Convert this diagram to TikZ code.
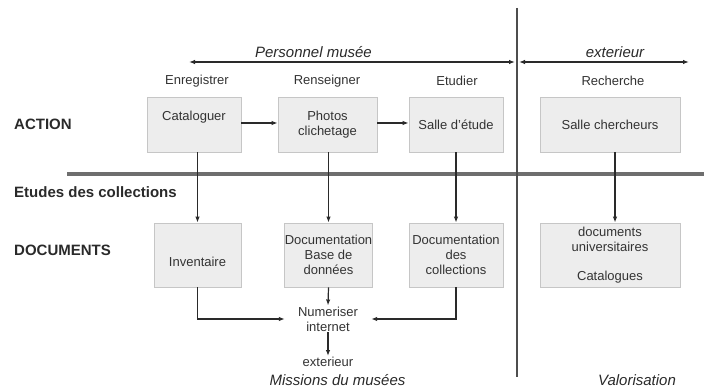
\documentclass[tikz,border=0pt]{standalone}
\usepackage{fontspec}
\setmainfont{Liberation Sans}
\usetikzlibrary{arrows.meta,calc}

\definecolor{boxfill}{HTML}{EDEDED}
\definecolor{boxline}{HTML}{C6C6C6}
\definecolor{ink}{HTML}{2A2A2A}
\definecolor{txt}{HTML}{333333}
\definecolor{rule}{HTML}{6E6E6E}
\definecolor{divider}{HTML}{4E4E4E}

\tikzset{
  box/.style={draw=boxline, fill=boxfill, line width=0.8pt, inner sep=0pt,
              align=center, text=txt, font=\fontsize{13}{15}\selectfont},
  small/.style={inner sep=0pt, text=txt, align=center, font=\fontsize{13}{15}\selectfont},
  head/.style={inner sep=0pt, anchor=west, text=ink, font=\fontsize{15}{18}\selectfont\bfseries},
  title/.style={inner sep=0pt, text=ink, font=\fontsize{15}{18}\selectfont\itshape},
  arr/.style={draw=ink, line width=1.2pt, -{Latex[length=6pt,width=4.5pt]}},
  twoarr/.style={draw=ink, line width=1.2pt, {Latex[length=6pt,width=4.5pt]}-{Latex[length=6pt,width=4.5pt]}},
}

\begin{document}
\begin{tikzpicture}[x=1pt, y=-1pt]
\useasboundingbox (0,0) rectangle (704,390);
\fill[white] (0,0) rectangle (704,390);

% separators
\draw[rule, line width=4pt] (67,174.5) -- (704,174.5);
\draw[divider, line width=2pt] (517,8) -- (517,377);

% row headings
\node[head] (hAction) at (14,124) {ACTION};
\node[head] (hEtudes) at (14,192) {Etudes des collections};
\node[head] (hDocs) at (14,250) {DOCUMENTS};

% scope arrows
\coordinate (pL) at (189,62);
\coordinate (pR) at (515,62);
\coordinate (eL) at (519,62);
\coordinate (eR) at (689,62);
\draw[twoarr] (pL) -- (pR);
\draw[twoarr] (eL) -- (eR);
\node[title] (tPers) at (313.5,52) {Personnel musée};
\node[title] (tExt) at (615,52) {exterieur};

% column headings
\node[small] (cEnr) at (197,81) {Enregistrer};
\node[small] (cRen) at (327,81) {Renseigner};
\node[small] (cEtu) at (457,81) {Etudier};
\node[small] (cRec) at (613,81) {Recherche};

% action boxes
\node[box, minimum width=94pt, minimum height=55pt] (cat) at (194,124.5)
  {\raisebox{7pt}[\height][\depth]{Cataloguer}};
\node[box, minimum width=99pt, minimum height=55pt] (photo) at (327.5,124.5)
  {Photos\\clichetage};
\node[box, minimum width=94pt, minimum height=55pt] (etude) at (456,124.5)
  {Salle d'étude};
\node[box, minimum width=140pt, minimum height=55pt] (cherch) at (610,124.5)
  {Salle chercheurs};

% document boxes
\node[box, minimum width=87pt, minimum height=64pt] (inv) at (197.5,255)
  {\raisebox{-7pt}[\height][\depth]{Inventaire}};
\node[box, minimum width=87pt, minimum height=64pt] (docbase) at (328.5,255)
  {Documentation\\Base de\\données};
\node[box, minimum width=94pt, minimum height=64pt] (doccoll) at (456,255)
  {Documentation\\des\\collections};
\node[box, minimum width=140pt, minimum height=64pt] (docuni) at (610,255)
  {documents\\universitaires\\[14pt]Catalogues};

% digitisation and output
\node[small, inner xsep=13pt, inner ysep=1pt] (num) at (328,319) {Numeriser\\internet};
\node[small, inner ysep=1pt] (ext) at (328,362) {exterieur};
\node[title] (tMis) at (337.5,380) {Missions du musées};
\node[title] (tVal) at (637,380) {Valorisation};

% flows
\draw[arr] (cat.east |- 0,123) -- (photo.west |- 0,123);
\draw[arr] (photo.east |- 0,123) -- (etude.west |- 0,123);
\draw[arr] (cat.south -| inv.north) -- (inv.north);
\draw[arr] (photo.south -| docbase.north) -- (docbase.north);
\draw[arr] (etude.south) -- (doccoll.north);
\draw[arr] ([xshift=5pt]cherch.south) -- ([xshift=5pt]docuni.north);
\draw[arr] (docbase.south) -- (num.north);
\draw[arr] (num.south) -- (ext.north);
\draw[arr] (inv.south) |- (num.west);
\draw[arr] (doccoll.south) |- (num.east);
\end{tikzpicture}
\end{document}
